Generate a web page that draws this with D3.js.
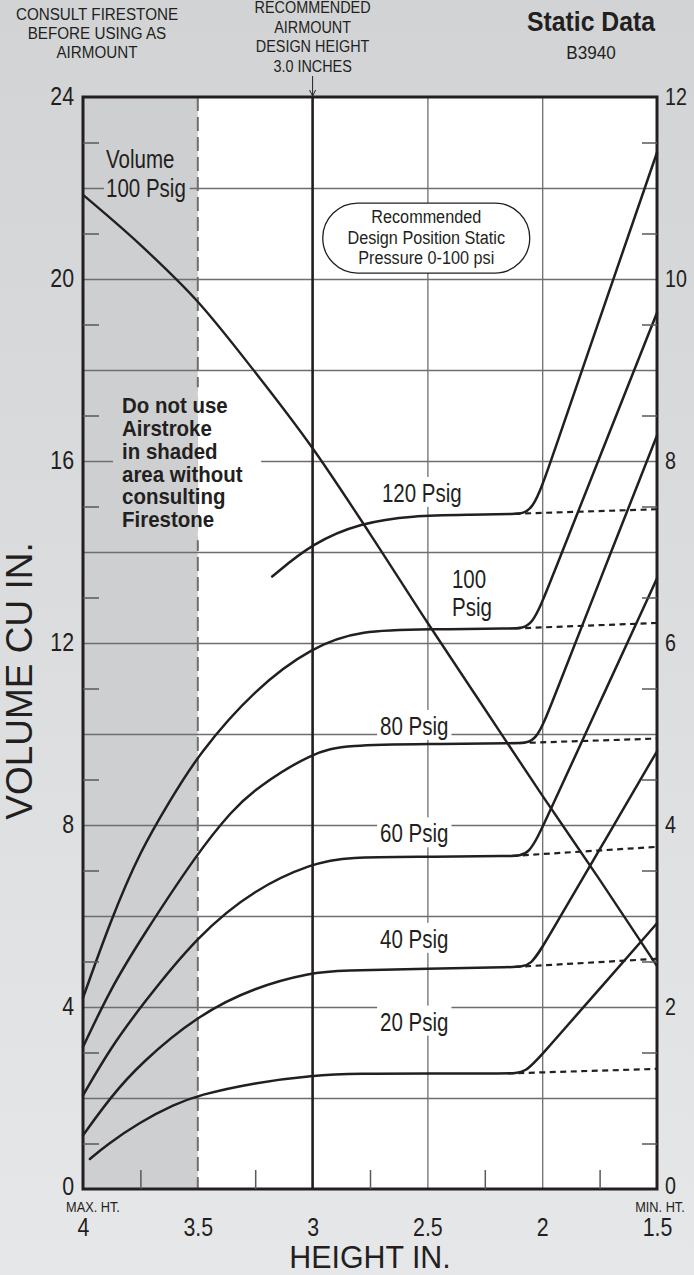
<!DOCTYPE html>
<html>
<head>
<meta charset="utf-8">
<script src="https://cdn.jsdelivr.net/npm/d3@7"></script>
<style>
  body { margin: 0; }
  svg { display: block; }
  text { font-family: "Liberation Sans", Arial, sans-serif; fill: #231f20; }
</style>
</head>
<body>
<div id="chart"></div>
<script>
const WIDTH = 694;
const HEIGHT = 1275;

// axis ticks
const heightTicks = [4, 3.5, 3, 2.5, 2, 1.5];
const heightMinor = [3.75, 3.25, 2.75, 2.25, 1.75];
const heightGrid = [2.5, 2];
const volumeTicks = [0, 4, 8, 12, 16, 20, 24];
const volumeGrid = [2, 4, 6, 8, 10, 12, 14, 16, 18, 20, 22];
const volumeMinor = [1, 3, 5, 7, 9, 11, 13, 15, 17, 19, 21, 23];
const forceTicks = [0, 2, 4, 6, 8, 10, 12];

// volume at 100 psig  [height in, cu in]
const volume100 = [[4.0, 21.85], [3.75, 20.75], [3.5, 19.5], [3.25, 17.95], [3.0, 16.28],
  [2.75, 14.4], [2.5, 12.45], [2.25, 10.55], [2.0, 8.65], [1.75, 6.8], [1.5, 4.9]];

// force curves  [height in, right axis value]
const force120 = [[3.176, 6.73], [3.0, 7.1], [2.79, 7.32], [2.57, 7.4], [2.3, 7.41], [2.12, 7.42],
  [2.042, 7.42], [1.962, 8.0], [1.75, 9.56], [1.5, 11.39]];
const force100 = [[4.0, 2.1], [3.88, 2.95], [3.75, 3.72], [3.62, 4.27], [3.5, 4.77], [3.25, 5.5],
  [3.0, 5.96], [2.79, 6.14], [2.5, 6.15], [2.12, 6.16], [2.045, 6.16], [1.965, 6.67], [1.75, 8.04], [1.5, 9.63]];
const force80 = [[4.0, 1.56], [3.88, 2.2], [3.75, 2.74], [3.5, 3.7], [3.35, 4.16], [3.25, 4.4],
  [3.0, 4.8], [2.85, 4.88], [2.5, 4.89], [2.1, 4.9], [2.027, 4.9], [1.955, 5.36], [1.75, 6.68], [1.5, 8.28]];
const force60 = [[4.0, 1.03], [3.88, 1.55], [3.75, 2.0], [3.5, 2.79], [3.25, 3.3], [3.0, 3.58],
  [2.85, 3.65], [2.5, 3.65], [2.13, 3.66], [2.057, 3.66], [1.985, 4.05], [1.75, 5.34], [1.5, 6.71]];
const force40 = [[4.0, 0.59], [3.88, 1.01], [3.75, 1.38], [3.5, 1.91], [3.25, 2.22], [3.0, 2.38],
  [2.88, 2.4], [2.5, 2.42], [2.12, 2.44], [2.049, 2.44], [1.975, 2.76], [1.75, 3.73], [1.5, 4.81]];
const force20 = [[3.97, 0.33], [3.9, 0.48], [3.75, 0.74], [3.6, 0.93], [3.5, 1.03], [3.25, 1.17],
  [3.0, 1.25], [2.8, 1.27], [2.5, 1.27], [2.15, 1.27], [2.072, 1.27], [1.99, 1.51], [1.75, 2.2], [1.5, 2.92]];

// dashed continuations
const dash120 = [[2.12, 7.42], [1.5, 7.47]];
const dash100 = [[2.12, 6.16], [1.5, 6.22]];
const dash80 = [[2.1, 4.9], [1.5, 4.95]];
const dash60 = [[2.13, 3.66], [1.5, 3.76]];
const dash40 = [[2.12, 2.44], [1.5, 2.53]];
const dash20 = [[2.15, 1.27], [1.5, 1.32]];

const M = { left: 83, right: 657, top: 97, bottom: 1189 };

const svg = d3.select("#chart").append("svg")
  .attr("xmlns", "http://www.w3.org/2000/svg")
  .attr("width", WIDTH)
  .attr("height", HEIGHT);

const grad = svg.append("defs").append("linearGradient")
  .attr("id", "bg").attr("x1", 0).attr("y1", 0).attr("x2", 0).attr("y2", 1);
grad.append("stop").attr("offset", "0%").attr("stop-color", "#d2d3d5");
grad.append("stop").attr("offset", "100%").attr("stop-color", "#e6e7e9");

svg.append("rect").attr("width", WIDTH).attr("height", HEIGHT).attr("fill", "url(#bg)");

const x = d3.scaleLinear().domain([4, 1.5]).range([M.left, M.right]);
const yV = d3.scaleLinear().domain([0, 24]).range([M.bottom, M.top]);
const yF = d3.scaleLinear().domain([0, 12]).range([M.bottom, M.top]);

const SHADE = "#cecfd1";
const INK = "#231f20";

// squeeze text horizontally, the original uses a condensed face
function condense(sel, k) {
  sel.each(function () {
    const L = this.getComputedTextLength();
    d3.select(this).attr("textLength", L * k).attr("lengthAdjust", "spacingAndGlyphs");
  });
}

// plot area
svg.append("rect")
  .attr("x", M.left).attr("y", M.top)
  .attr("width", M.right - M.left).attr("height", M.bottom - M.top)
  .attr("fill", "#fff");
svg.append("rect")
  .attr("x", x(4)).attr("y", M.top)
  .attr("width", x(3.5) - x(4)).attr("height", M.bottom - M.top)
  .attr("fill", SHADE);

// gridlines
const gridY = svg.append("g")
  .attr("transform", `translate(${M.left},0)`)
  .call(d3.axisLeft(yV).tickValues(volumeGrid).tickSize(-(M.right - M.left)).tickFormat(""));
const gridX = svg.append("g")
  .attr("transform", `translate(0,${M.bottom})`)
  .call(d3.axisBottom(x).tickValues(heightGrid).tickSize(-(M.bottom - M.top)).tickFormat(""));
[gridY, gridX].forEach(g => {
  g.select(".domain").remove();
  g.selectAll("line").attr("stroke", "#6d6e70").attr("stroke-width", 1.3);
});

// limit of shaded area
svg.append("line")
  .attr("x1", x(3.5)).attr("x2", x(3.5))
  .attr("y1", M.top).attr("y2", M.bottom)
  .attr("stroke", "#6d6e70").attr("stroke-width", 2)
  .attr("stroke-dasharray", "14,6");

// labels with a backing that hides the grid
function label(lines, x0, y0, lh, opts = {}) {
  const g = svg.append("g");
  const t = g.append("text")
    .attr("x", x0).attr("y", y0)
    .style("font-size", (opts.size || 25) + "px")
    .style("font-weight", opts.bold ? "bold" : null);
  lines.forEach((s, i) => t.append("tspan").attr("x", x0).attr("dy", i ? lh : 0).text(s));
  t.selectAll("tspan").call(condense, opts.k || 0.82);
  const b = t.node().getBBox();
  const p = opts.pad || [3, 3, 1, 1]; // left right top bottom
  if (opts.split != null) {
    g.insert("rect", "text")
      .attr("x", b.x - p[0]).attr("y", b.y - p[2])
      .attr("width", opts.split - (b.x - p[0])).attr("height", b.height + p[2] + p[3])
      .attr("fill", SHADE);
    g.insert("rect", "text")
      .attr("x", opts.split).attr("y", b.y - p[2])
      .attr("width", b.x + b.width + p[1] - opts.split).attr("height", b.height + p[2] + p[3])
      .attr("fill", "#fff");
  } else {
    g.insert("rect", "text")
      .attr("x", b.x - p[0]).attr("y", b.y - p[2])
      .attr("width", b.width + p[0] + p[1]).attr("height", b.height + p[2] + p[3])
      .attr("fill", opts.fill || "#fff");
  }
  return g;
}

label(["Do not use", "Airstroke", "in shaded", "area without", "consulting", "Firestone"],
  x(3.83), yV(17.05), 22.8, { size: 22, bold: true, k: 0.93, split: x(3.5), pad: [9, 18, 6, 8] });
label(["Volume", "100 Psig"], x(4) + 23, yV(22.45), 29, { size: 25, fill: SHADE, pad: [2, 4, -4, 0] });

label(["120 Psig"], x(2.698), yF(7.55), 0, { pad: [3, 3, 2, 0] });
label(["100", "Psig"], x(2.393), yF(6.6), 28, { pad: [3, 3, 2, 0] });
label(["80 Psig"], x(2.706), yF(4.99), 0, { pad: [3, 3, 2, 0] });
label(["60 Psig"], x(2.706), yF(3.81), 0, { pad: [3, 3, 2, 0] });
label(["40 Psig"], x(2.706), yF(2.65), 0, { pad: [3, 3, 2, 0] });
label(["20 Psig"], x(2.706), yF(1.74), 0, { pad: [3, 3, 2, 0] });

// recommended design height line
svg.append("line")
  .attr("x1", x(3)).attr("x2", x(3))
  .attr("y1", M.top).attr("y2", M.bottom)
  .attr("stroke", INK).attr("stroke-width", 2.6);

// recommended position box
const boxW = 207, boxH = 70;
const bx = x(2.505), by = yV(20.9);
svg.append("rect")
  .attr("x", bx - boxW / 2).attr("y", by - boxH / 2)
  .attr("width", boxW).attr("height", boxH)
  .attr("rx", boxH / 2).attr("ry", boxH / 2)
  .attr("fill", "#fff").attr("stroke", INK).attr("stroke-width", 1.3);
const boxText = svg.append("text")
  .attr("text-anchor", "middle")
  .style("font-size", "18px");
["Recommended", "Design Position Static", "Pressure 0-100 psi"].forEach((s, i) =>
  boxText.append("tspan").attr("x", bx).attr("y", by - 15 + i * 20.5).text(s));
boxText.selectAll("tspan").call(condense, 0.9);

// curves
const lineF = d3.line().x(d => x(d[0])).y(d => yF(d[1])).curve(d3.curveBasis);
const lineV = d3.line().x(d => x(d[0])).y(d => yV(d[1])).curve(d3.curveMonotoneX);
const lineD = d3.line().x(d => x(d[0])).y(d => yF(d[1]));

const solid = [force120, force100, force80, force60, force40, force20];
const dashed = [dash120, dash100, dash80, dash60, dash40, dash20];

svg.append("g").selectAll("path").data(dashed).join("path")
  .attr("d", lineD).attr("fill", "none")
  .attr("stroke", INK).attr("stroke-width", 2.2).attr("stroke-dasharray", "6,4.5");

svg.append("g").selectAll("path").data(solid).join("path")
  .attr("d", lineF).attr("fill", "none")
  .attr("stroke", INK).attr("stroke-width", 2.5).attr("stroke-linecap", "round");

svg.append("path").datum(volume100)
  .attr("d", lineV).attr("fill", "none")
  .attr("stroke", INK).attr("stroke-width", 2.4);

// frame
svg.append("rect")
  .attr("x", M.left).attr("y", M.top)
  .attr("width", M.right - M.left).attr("height", M.bottom - M.top)
  .attr("fill", "none").attr("stroke", INK).attr("stroke-width", 3);

// minor ticks
function styleTicks(g) {
  g.select(".domain").remove();
  g.selectAll("line").attr("stroke", "#58595b").attr("stroke-width", 1.5);
}
svg.append("g").attr("transform", `translate(${M.left},0)`)
  .call(d3.axisLeft(yV).tickValues(volumeMinor).tickSize(-16).tickFormat(""))
  .call(styleTicks);
svg.append("g").attr("transform", `translate(${M.right},0)`)
  .call(d3.axisRight(yV).tickValues(volumeMinor).tickSize(-15).tickFormat(""))
  .call(styleTicks);
svg.append("g").attr("transform", `translate(0,${M.bottom})`)
  .call(d3.axisBottom(x).tickValues(heightMinor).tickSize(-19).tickFormat(""))
  .call(styleTicks);

// tick labels
function styleLabels(size) {
  return g => {
    g.select(".domain").remove();
    g.selectAll("line").remove();
    g.selectAll("text").attr("fill", INK).style("font-size", size + "px")
      .style("font-family", '"Liberation Sans", Arial, sans-serif')
      .call(condense, 0.82);
  };
}
svg.append("g").attr("transform", `translate(${M.left},0)`)
  .call(d3.axisLeft(yV).tickValues(volumeTicks).tickSize(0).tickPadding(9).tickFormat(d3.format("d")))
  .call(styleLabels(26))
  .selectAll("text").attr("dy", "0.3em");
svg.append("g").attr("transform", `translate(${M.right},0)`)
  .call(d3.axisRight(yF).tickValues(forceTicks).tickSize(0).tickPadding(8).tickFormat(d3.format("d")))
  .call(styleLabels(24))
  .selectAll("text").attr("dy", "0.3em");
svg.selectAll("g.tick text").filter(d => d === 0).attr("dy", "0.2em");
svg.append("g").attr("transform", `translate(0,${M.bottom})`)
  .call(d3.axisBottom(x).tickValues(heightTicks).tickSize(0).tickPadding(29).tickFormat(d3.format("")))
  .call(styleLabels(26));

const htNotes = svg.append("g").style("font-size", "15px").attr("text-anchor", "middle");
htNotes.append("text").attr("x", x(4) + 10).attr("y", M.bottom + 23).text("MAX. HT.");
htNotes.append("text").attr("x", x(1.5) + 3).attr("y", M.bottom + 23).text("MIN. HT.");
htNotes.selectAll("text").call(condense, 0.85);

// axis titles
svg.append("text")
  .attr("x", 370).attr("y", 1268)
  .attr("text-anchor", "middle").style("font-size", "31px").text("HEIGHT IN.")
  .call(condense, 0.98);
svg.append("text")
  .attr("transform", "translate(32,681) rotate(-90)")
  .attr("text-anchor", "middle").style("font-size", "37px").text("VOLUME CU IN.");

// header notes
function note(lines, cx, y0, lh, size, k) {
  const t = svg.append("text")
    .attr("text-anchor", "middle").style("font-size", size + "px");
  lines.forEach((s, i) => t.append("tspan").attr("x", cx).attr("y", y0 + i * lh).text(s));
  if (k) t.selectAll("tspan").call(condense, k);
  return t;
}
note(["CONSULT FIRESTONE", "BEFORE USING AS", "AIRMOUNT"], 97, 20, 19, 16, 0.95);
note(["RECOMMENDED", "AIRMOUNT", "DESIGN HEIGHT", "3.0 INCHES"], x(3), 13, 19.5, 16, 0.9);
note(["Static Data"], 591, 31, 0, 27, 0.97).style("font-weight", "bold");
note(["B3940"], 591, 59, 0, 18, 0.95);

// arrow to the design height line
svg.append("line")
  .attr("x1", x(3)).attr("x2", x(3)).attr("y1", 76).attr("y2", M.top)
  .attr("stroke", INK).attr("stroke-width", 1);
svg.append("path")
  .attr("d", `M${x(3) - 3},${M.top - 7} L${x(3)},${M.top - 1} L${x(3) + 3},${M.top - 7}`)
  .attr("fill", "none").attr("stroke", INK).attr("stroke-width", 1);
</script>
</body>
</html>
